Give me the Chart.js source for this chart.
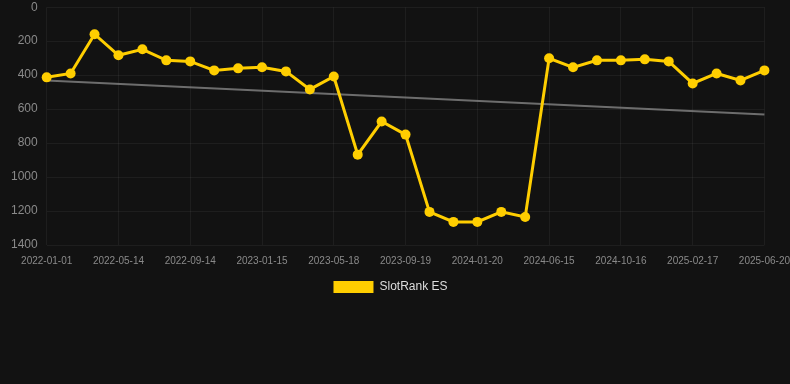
<!DOCTYPE html>
<html>
<head>
<meta charset="utf-8">
<script src="https://cdn.jsdelivr.net/npm/chart.js@4/dist/chart.umd.min.js"></script>
<style>
  html, body { margin: 0; padding: 0; background: #121212; }
  #wrap { width: 790px; height: 311px; position: relative; }
</style>
</head>
<body>
<div id="wrap"><canvas id="c"></canvas></div>
<script>
const categories = [
  "2022-01-01","2022-02-14","2022-03-30","2022-05-14","2022-06-24","2022-08-04",
  "2022-09-14","2022-10-25","2022-12-05","2023-01-15","2023-02-25","2023-04-07",
  "2023-05-18","2023-06-28","2023-08-09","2023-09-19","2023-10-30","2023-12-10",
  "2024-01-20","2024-03-08","2024-04-27","2024-06-15","2024-07-26","2024-09-05",
  "2024-10-16","2024-11-26","2025-01-06","2025-02-17","2025-03-30","2025-05-10",
  "2025-06-20"
];
const slotRankES = [
  413, 390, 159, 283, 248, 313, 319, 372, 360, 354, 378, 484,
  408, 868, 673, 750, 1205, 1264, 1264, 1205, 1235, 301, 354, 313,
  313, 307, 319, 449, 390, 431, 372
];
const trendStart = 431;
const trendEnd = 632;
const trend = categories.map((_, i) => i === 0 ? trendStart : (i === categories.length - 1 ? trendEnd : null));
const yTicks = [0, 200, 400, 600, 800, 1000, 1200, 1400];

const font = "'Liberation Sans', Arial, Helvetica, sans-serif";
new Chart(document.getElementById('c'), {
  type: 'line',
  data: {
    labels: categories,
    datasets: [
      {
        label: 'SlotRank ES',
        data: slotRankES,
        borderColor: 'rgb(255,206,0)',
        backgroundColor: 'rgb(255,206,0)',
        borderWidth: 3,
        pointRadius: 5,
        pointHoverRadius: 5,
        pointBackgroundColor: 'rgb(255,206,0)',
        pointBorderWidth: 0,
        tension: 0,
        clip: false,
        order: 1
      },
      {
        label: 'trend',
        data: trend,
        borderColor: 'rgba(140,140,140,0.75)',
        borderWidth: 2,
        pointRadius: 0,
        spanGaps: true,
        fill: false,
        order: 2
      }
    ]
  },
  options: {
    responsive: true,
    maintainAspectRatio: false,
    animation: false,
    layout: { autoPadding: false, padding: { top: 0, left: 11, right: 20, bottom: 8 } },
    plugins: {
      tooltip: { enabled: false },
      legend: {
        position: 'bottom',
        labels: {
          color: '#dddddd',
          font: { family: font, size: 12 },
          boxWidth: 40,
          boxHeight: 12,
          padding: 14,
          filter: item => item.text !== 'trend',
          generateLabels: chart => Chart.defaults.plugins.legend.labels.generateLabels(chart)
            .map(l => Object.assign(l, { lineWidth: 0 }))
        }
      }
    },
    scales: {
      x: {
        type: 'category',
        offset: false,
        grid: { color: 'rgba(255,255,255,0.05)', drawTicks: true, tickLength: 10, tickColor: 'rgba(0,0,0,0)' },
        border: { display: false },
        ticks: {
          autoSkip: false,
          maxRotation: 0,
          color: '#8a8a8a',
          font: { family: font, size: 10 },
          padding: 0
        },
        afterBuildTicks: axis => {
          axis.ticks = axis.ticks.filter((t, i) => i % 3 === 0);
        }
      },
      y: {
        reverse: true,
        min: 0,
        max: 1400,
        grid: { color: 'rgba(255,255,255,0.05)', drawTicks: true, tickLength: 9, tickColor: 'rgba(0,0,0,0)' },
        border: { display: false },
        afterBuildTicks: axis => {
          axis.ticks = yTicks.map(v => ({ value: v }));
        },
        ticks: {
          color: '#8a8a8a',
          font: { family: font, size: 12 },
          padding: 0,
          callback: v => String(v)
        }
      }
    }
  }
});
</script>
</body>
</html>
